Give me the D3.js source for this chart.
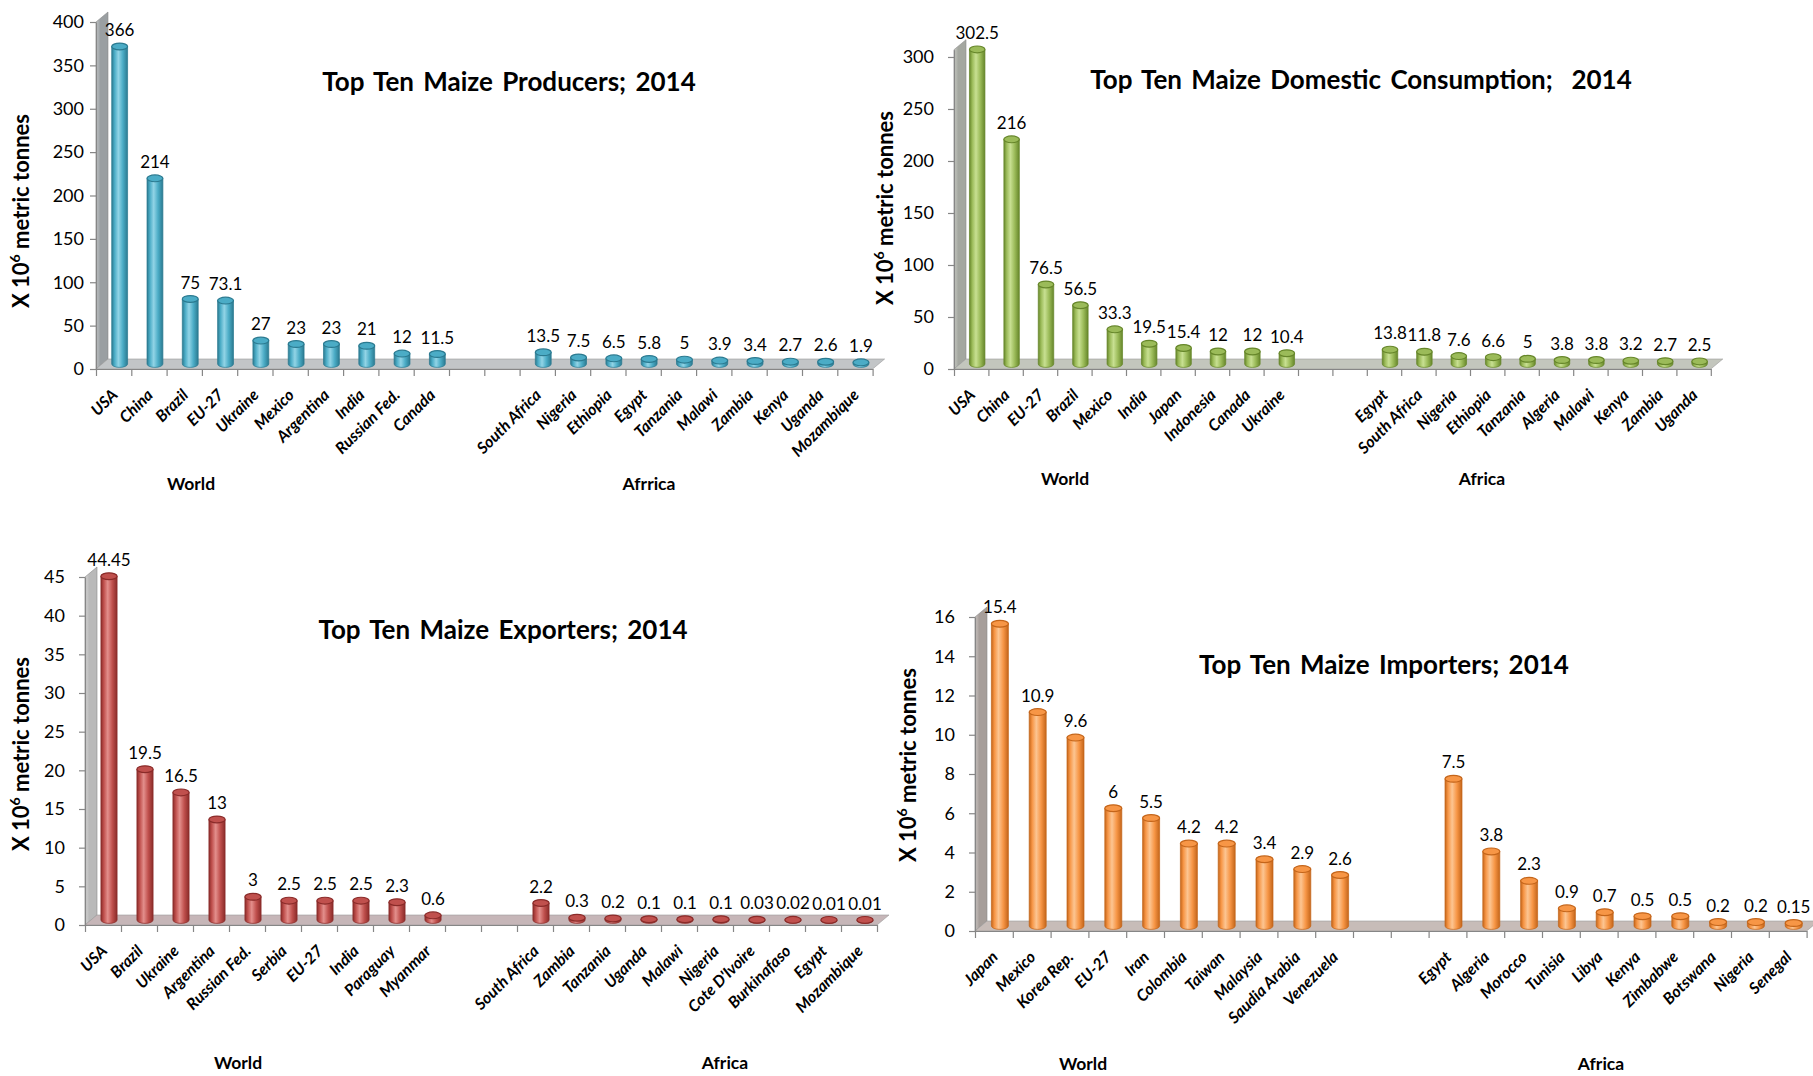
<!DOCTYPE html>
<html>
<head>
<meta charset="utf-8">
<script src="https://cdn.jsdelivr.net/npm/d3@7"></script>
<style>
  body { margin: 0; background: #fff; }
  text { font-family: Lato, "Open Sans", sans-serif; fill: #000; }
</style>
</head>
<body>
<script>
// top ten maize charts 2014, four 3d-like cylinder bar charts

// producers
var prodWorld = ["USA", "China", "Brazil", "EU-27", "Ukraine", "Mexico", "Argentina", "India", "Russian Fed.", "Canada"];
var prodWorldVal = [366, 214, 75, 73.1, 27, 23, 23, 21, 12, 11.5];
var prodAfrica = ["South Africa", "Nigeria", "Ethiopia", "Egypt", "Tanzania", "Malawi", "Zambia", "Kenya", "Uganda", "Mozambique"];
var prodAfricaVal = [13.5, 7.5, 6.5, 5.8, 5, 3.9, 3.4, 2.7, 2.6, 1.9];
var prodLabels = ["366", "214", "75", "73.1", "27", "23", "23", "21", "12", "11.5", "13.5", "7.5", "6.5", "5.8", "5", "3.9", "3.4", "2.7", "2.6", "1.9"];

// domestic consumption
var consWorld = ["USA", "China", "EU-27", "Brazil", "Mexico", "India", "Japan", "Indonesia", "Canada", "Ukraine"];
var consWorldVal = [302.5, 216, 76.5, 56.5, 33.3, 19.5, 15.4, 12, 12, 10.4];
var consAfrica = ["Egypt", "South Africa", "Nigeria", "Ethiopia", "Tanzania", "Algeria", "Malawi", "Kenya", "Zambia", "Uganda"];
var consAfricaVal = [13.8, 11.8, 7.6, 6.6, 5, 3.8, 3.8, 3.2, 2.7, 2.5];
var consLabels = ["302.5", "216", "76.5", "56.5", "33.3", "19.5", "15.4", "12", "12", "10.4", "13.8", "11.8", "7.6", "6.6", "5", "3.8", "3.8", "3.2", "2.7", "2.5"];

// exporters
var expWorld = ["USA", "Brazil", "Ukraine", "Argentina", "Russian Fed.", "Serbia", "EU-27", "India", "Paraguay", "Myanmar"];
var expWorldVal = [44.45, 19.5, 16.5, 13, 3, 2.5, 2.5, 2.5, 2.3, 0.6];
var expAfrica = ["South Africa", "Zambia", "Tanzania", "Uganda", "Malawi", "Nigeria", "Cote D'Ivoire", "Burkinafaso", "Egypt", "Mozambique"];
var expAfricaVal = [2.2, 0.3, 0.2, 0.1, 0.1, 0.1, 0.03, 0.02, 0.01, 0.01];
var expLabels = ["44.45", "19.5", "16.5", "13", "3", "2.5", "2.5", "2.5", "2.3", "0.6", "2.2", "0.3", "0.2", "0.1", "0.1", "0.1", "0.03", "0.02", "0.01", "0.01"];

// importers
var impWorld = ["Japan", "Mexico", "Korea Rep.", "EU-27", "Iran", "Colombia", "Taiwan", "Malaysia", "Saudia Arabia", "Venezuela"];
var impWorldVal = [15.4, 10.9, 9.6, 6, 5.5, 4.2, 4.2, 3.4, 2.9, 2.6];
var impAfrica = ["Egypt", "Algeria", "Morocco", "Tunisia", "Libya", "Kenya", "Zimbabwe", "Botswana", "Nigeria", "Senegal"];
var impAfricaVal = [7.5, 3.8, 2.3, 0.9, 0.7, 0.5, 0.5, 0.2, 0.2, 0.15];
var impLabels = ["15.4", "10.9", "9.6", "6", "5.5", "4.2", "4.2", "3.4", "2.9", "2.6", "7.5", "3.8", "2.3", "0.9", "0.7", "0.5", "0.5", "0.2", "0.2", "0.15"];

// dimensions
var width = 1813;
var height = 1076;
var depthX = 12;
var depthY = -10;

var svg = d3.select("body")
  .append("svg")
  .attr("width", width)
  .attr("height", height);

var defs = svg.append("defs");

// panels, layout only
var panels = [
  {id: "p1", title: "Top Ten Maize Producers; 2014", world: prodWorld, worldVal: prodWorldVal,
   africa: prodAfrica, africaVal: prodAfricaVal, labels: prodLabels, groupNames: ["World", "Afrrica"],
   axisX: 96, y0: 369, yTop: 22, max: 400, step: 50, slot: 35.3, pad: 6,
   titleX: 509, titleY: 91, yTitleX: 21, yTitleY: 211, groupX: [191, 649], groupY: 490,
   base: "#4bacc6", dark: "#2b7a90", light: "#92d4e6", wall: "#9a9fa2", wallLight: "#c4c8ca", floor: "#c2c5c7"},
  {id: "p2", title: "Top Ten Maize Domestic Consumption;  2014", world: consWorld, worldVal: consWorldVal,
   africa: consAfrica, africaVal: consAfricaVal, labels: consLabels, groupNames: ["World", "Africa"],
   axisX: 954, y0: 369, yTop: 49.7, max: 307, step: 50, slot: 34.4, pad: 14,
   titleX: 1361, titleY: 89, yTitleX: 885, yTitleY: 208, groupX: [1065, 1482], groupY: 485,
   base: "#9bbb59", dark: "#66862a", light: "#c8e092", wall: "#a4a7a0", wallLight: "#cbcdc7", floor: "#c3c6bd"},
  {id: "p3", title: "Top Ten Maize Exporters; 2014", world: expWorld, worldVal: expWorldVal,
   africa: expAfrica, africaVal: expAfricaVal, labels: expLabels, groupNames: ["World", "Africa"],
   axisX: 85, y0: 925, yTop: 577, max: 45, step: 5, slot: 36, pad: 14,
   titleX: 503, titleY: 639, yTitleX: 21, yTitleY: 754, groupX: [238, 725], groupY: 1069,
   base: "#c0504d", dark: "#8a2b29", light: "#e38f8c", wall: "#b9b9b9", wallLight: "#d6d6d6", floor: "#c6b6b8"},
  {id: "p4", title: "Top Ten Maize Importers; 2014", world: impWorld, worldVal: impWorldVal,
   africa: impAfrica, africaVal: impAfricaVal, labels: impLabels, groupNames: ["World", "Africa"],
   axisX: 975, y0: 931, yTop: 617, max: 16, step: 2, slot: 37.8, pad: 14,
   titleX: 1384, titleY: 674, yTitleX: 908, yTitleY: 765, groupX: [1083, 1601], groupY: 1070,
   base: "#f79646", dark: "#c4651a", light: "#fcc592", wall: "#a69e9a", wallLight: "#cdc7c4", floor: "#c7bcb8"}
];

panels.forEach(function(p) {
  drawPanel(p);
});

function drawPanel(p) {
  var names = p.world.concat(["", ""], p.africa);
  var values = p.worldVal.concat([null, null], p.africaVal);
  var texts = p.labels.slice(0, 10).concat(["", ""], p.labels.slice(10));
  var n = names.length;
  var xEnd = p.axisX + n * p.slot;

  var xScale = d3.scaleBand()
    .domain(d3.range(n))
    .range([p.axisX, xEnd]);

  var yScale = d3.scaleLinear()
    .domain([0, p.max])
    .range([p.y0, p.yTop]);

  var g = svg.append("g");

  // gradients for cylinders and wall
  var grad = defs.append("linearGradient")
    .attr("id", "cyl" + p.id)
    .attr("x1", 0).attr("x2", 1).attr("y1", 0).attr("y2", 0);
  [[0, p.dark], [0.18, p.base], [0.42, p.light], [0.7, p.base], [1, p.dark]].forEach(function(s) {
    grad.append("stop").attr("offset", s[0]).attr("stop-color", s[1]);
  });

  var wallGrad = defs.append("linearGradient")
    .attr("id", "wall" + p.id)
    .attr("x1", 0).attr("x2", 1).attr("y1", 0).attr("y2", 0);
  wallGrad.append("stop").attr("offset", 0).attr("stop-color", p.wallLight);
  wallGrad.append("stop").attr("offset", 0.35).attr("stop-color", p.wall);
  wallGrad.append("stop").attr("offset", 1).attr("stop-color", p.wall);

  // side wall
  var y0 = yScale(0);
  var yT = yScale(p.max);
  g.append("path")
    .attr("d", "M" + [p.axisX, y0] + "L" + [p.axisX, yT] + "L" + [p.axisX + depthX, yT + depthY] +
      "L" + [p.axisX + depthX, y0 + depthY] + "Z")
    .attr("fill", "url(#wall" + p.id + ")")
    .attr("stroke", "#8a8a8a")
    .attr("stroke-width", 0.6);

  // floor
  g.append("path")
    .attr("d", "M" + [p.axisX, y0] + "L" + [xEnd, y0] + "L" + [xEnd + depthX, y0 + depthY] +
      "L" + [p.axisX + depthX, y0 + depthY] + "Z")
    .attr("fill", p.floor)
    .attr("stroke", "#9a9a9a")
    .attr("stroke-width", 0.6);

  // make y-as
  var yAxis = d3.axisLeft(yScale)
    .tickValues(d3.range(0, p.max + 0.001, p.step))
    .tickSize(6)
    .tickSizeOuter(0)
    .tickPadding(p.pad);
  var ya = g.append("g")
    .attr("transform", "translate(" + [p.axisX, 0] + ")")
    .call(yAxis);
  ya.selectAll("text").attr("font-size", 18).style("font-family", "Lato");

  // make x-as with ticks between categories
  var slotScale = d3.scaleLinear().domain([0, n]).range([p.axisX, xEnd]);
  var xAxis = d3.axisBottom(slotScale)
    .tickValues(d3.range(n + 1))
    .tickSize(7)
    .tickSizeOuter(0)
    .tickFormat("");
  var xa = g.append("g")
    .attr("transform", "translate(" + [0, y0] + ")")
    .call(xAxis);

  [ya, xa].forEach(function(a) {
    a.select(".domain").attr("stroke", "#868686").attr("stroke-width", 1.2);
    a.selectAll(".tick line").attr("stroke", "#868686").attr("stroke-width", 1.2);
  });

  // cylinders
  var bw = p.slot * 0.45;
  var ry = 3.4;
  var bars = values.map(function(v, i) { return {v: v, i: i, t: texts[i]}; })
    .filter(function(d) { return d.v !== null; });

  function cx(d) { return xScale(d.i) + xScale.bandwidth() / 2 + depthX / 2; }
  function bottom() { return y0 + depthY / 2; }
  function top(d) { return yScale(d.v) + depthY / 2; }

  var cyl = g.selectAll(".cyl" + p.id)
    .data(bars)
    .enter()
    .append("g");

  cyl.append("path")
    .attr("d", function(d) {
      var l = cx(d) - bw / 2, r = cx(d) + bw / 2;
      return "M" + [l, top(d)] + "L" + [l, bottom()] + "A" + [bw / 2, ry, 0, 0, 0, r, bottom()] +
        "L" + [r, top(d)] + "Z";
    })
    .attr("fill", "url(#cyl" + p.id + ")")
    .attr("stroke", p.dark)
    .attr("stroke-width", 0.7);

  cyl.append("ellipse")
    .attr("cx", cx)
    .attr("cy", top)
    .attr("rx", bw / 2)
    .attr("ry", ry)
    .attr("fill", p.base)
    .attr("stroke", p.dark)
    .attr("stroke-width", 1.2);

  // value labels
  g.selectAll(".val" + p.id)
    .data(bars)
    .enter()
    .append("text")
    .attr("x", cx)
    .attr("y", function(d) { return top(d) - ry - 7; })
    .attr("text-anchor", "middle")
    .attr("font-size", 17)
    .text(function(d) { return d.t; });

  // category labels
  g.selectAll(".cat" + p.id)
    .data(names.map(function(c, i) { return {c: c, i: i}; }).filter(function(d) { return d.c !== ""; }))
    .enter()
    .append("text")
    .attr("transform", function(d) {
      return "translate(" + [xScale(d.i) + xScale.bandwidth() / 2 + 5, y0 + 27] + ") rotate(-45)";
    })
    .attr("text-anchor", "end")
    .attr("font-size", 16)
    .attr("font-weight", "bold")
    .attr("font-style", "italic")
    .text(function(d) { return d.c; });

  // group labels
  p.groupNames.forEach(function(name, k) {
    g.append("text")
      .attr("x", p.groupX[k])
      .attr("y", p.groupY)
      .attr("text-anchor", "middle")
      .attr("font-size", 17.5)
      .attr("font-weight", "bold")
      .text(name);
  });

  // title
  g.append("text")
    .attr("x", p.titleX)
    .attr("y", p.titleY)
    .attr("text-anchor", "middle")
    .attr("font-size", 26)
    .attr("font-weight", "bold")
    .style("white-space", "pre")
    .style("word-spacing", "3px")
    .text(p.title);

  // y label
  var yl = g.append("text")
    .attr("text-anchor", "middle")
    .attr("transform", "translate(" + [p.yTitleX + 8, p.yTitleY] + ") rotate(-90)")
    .attr("font-size", 22)
    .attr("font-weight", "bold");
  yl.append("tspan").text("X 10");
  yl.append("tspan").attr("font-size", 14).attr("dy", -9).text("6");
  yl.append("tspan").attr("dy", 9).text(" metric tonnes");
}
</script>
</body>
</html>
